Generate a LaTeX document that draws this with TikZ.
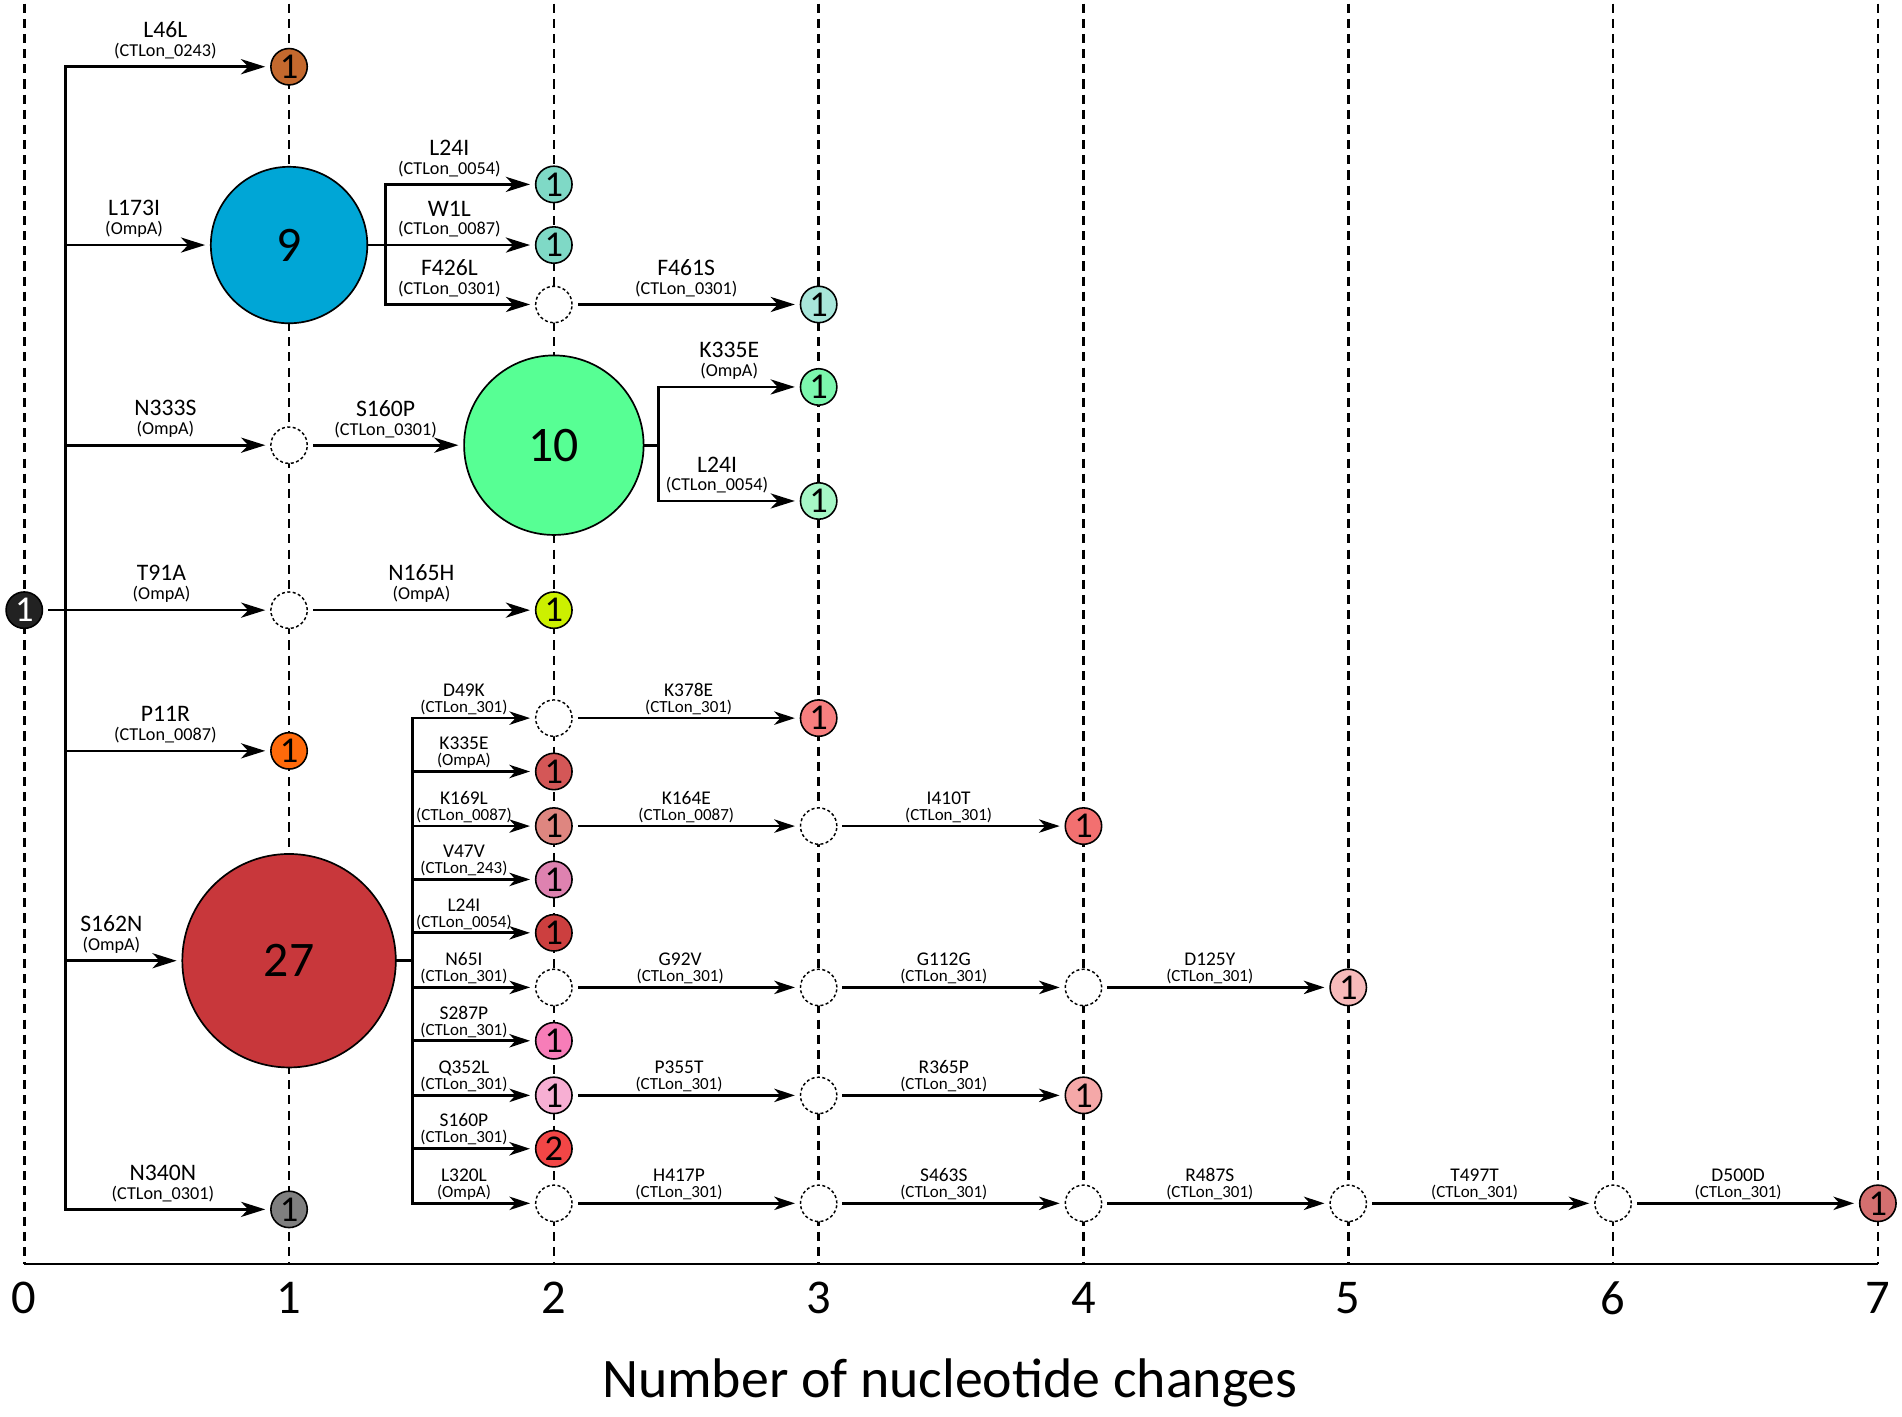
\documentclass[tikz,border=0pt]{standalone}
\usepackage{fontspec}
\setmainfont{Carlito}
\usetikzlibrary{arrows.meta}
\definecolor{cBrown}{HTML}{C4692E}
\definecolor{cBlue}{HTML}{00A6D6}
\definecolor{cTeal}{HTML}{7FD9C6}
\definecolor{cTealL}{HTML}{A8E6DA}
\definecolor{cGreen}{HTML}{57FF94}
\definecolor{cGreenB}{HTML}{7CF7AE}
\definecolor{cGreenC}{HTML}{A6F7C6}
\definecolor{cLime}{HTML}{CCF000}
\definecolor{cOrange}{HTML}{FF6A0A}
\definecolor{cRed}{HTML}{C8373B}
\definecolor{cGray}{HTML}{7F7F7F}
\definecolor{cRa}{HTML}{D45757}
\definecolor{cRb}{HTML}{DE8680}
\definecolor{cPa}{HTML}{DE82B0}
\definecolor{cRc}{HTML}{CC3F3F}
\definecolor{cPb}{HTML}{F77DB8}
\definecolor{cPc}{HTML}{F7AFD3}
\definecolor{cRd}{HTML}{F24646}
\definecolor{cRe}{HTML}{F77F7F}
\definecolor{cRf}{HTML}{F27070}
\definecolor{cRg}{HTML}{F7BABA}
\definecolor{cRh}{HTML}{F5A8A8}
\definecolor{cRi}{HTML}{D46F6F}
\definecolor{cRoot}{HTML}{222222}
\newcommand{\tU}[2]{#1\\[-4pt]{\fontsize{15}{15}\selectfont #2}}
\newcommand{\tL}[2]{#1\\[-2.8pt]{\fontsize{14}{14}\selectfont #2}}
\begin{document}
\begin{tikzpicture}[x=1pt,y=-1pt,
  vline/.style={line width=2.2pt, dash pattern=on 7.5pt off 5pt},
  conn/.style={line width=2.2pt, line cap=rect},
  arr/.style={conn, -{Stealth[length=20pt,width=12.5pt,inset=6pt]}, shorten >=4pt},
  arrL/.style={conn, -{Stealth[length=17pt,width=11pt,inset=5pt]}, shorten >=4pt},
  fromnode/.style={shorten <=5pt},
  nd/.style={circle, draw, line width=1.3pt, minimum size=30pt, inner sep=0pt, font=\fontsize{30}{30}\selectfont},
  emp/.style={circle, draw, line width=1.2pt, dash pattern=on 2.5pt off 2pt, fill=white, minimum size=30pt, inner sep=0pt},
  big/.style={circle, draw, line width=1.4pt, inner sep=0pt, font=\fontsize{41}{41}\selectfont},
  labU/.style={above, align=center, inner sep=2pt, yshift=3.2pt, font=\fontsize{19.5}{19.5}\selectfont},
  labL/.style={above, align=center, inner sep=1pt, yshift=0.7pt, font=\fontsize{16}{16}\selectfont},
  tick/.style={font=\fontsize{40}{40}\selectfont, inner sep=0pt}]
\useasboundingbox (0,0) rectangle (1568,1168);
% grid
\foreach \i in {0,...,7} \draw[vline] (20+218.3*\i,3) -- (20+218.3*\i,1042);
\draw[line width=2.2pt] (20,1042) -- (1548.1,1042);
\foreach \i in {0,...,7} \node[tick] (t\i) at (20+218.3*\i,1070) {\i};
\node[font=\fontsize{46}{46}\selectfont, inner sep=0pt] (title) at (783,1140) {Number of nucleotide changes};
% nodes column 0/1
\node[nd, fill=cRoot, text=white] (root) at (20,503) {1};
\node[nd, fill=cBrown] (n1a) at (238.3,55) {1};
\node[big, fill=cBlue, minimum size=129pt] (n9) at (238.3,202) {9};
\node[emp] (e1a) at (238.3,367) {};
\node[emp] (e1b) at (238.3,503) {};
\node[nd, fill=cOrange] (n1p) at (238.3,619) {1};
\node[big, fill=cRed, minimum size=176pt] (n27) at (238.3,792) {27};
\node[nd, fill=cGray] (n1g) at (238.3,997) {1};
% column 2 upper
\node[nd, fill=cTeal] (n2a) at (456.6,152) {1};
\node[nd, fill=cTeal] (n2b) at (456.6,202) {1};
\node[emp] (e2c) at (456.6,251) {};
\node[big, fill=cGreen, minimum size=148pt] (n10) at (456.6,367) {10};
\node[nd, fill=cLime] (n2y) at (456.6,503) {1};
% column 3 upper
\node[nd, fill=cTealL] (n3a) at (674.9,251) {1};
\node[nd, fill=cGreenB] (n3b) at (674.9,319) {1};
\node[nd, fill=cGreenC] (n3c) at (674.9,413) {1};
% column 2 lower
\node[emp] (e2d) at (456.6,592) {};
\node[nd, fill=cRa] (n2e) at (456.6,636) {1};
\node[nd, fill=cRb] (n2f) at (456.6,681) {1};
\node[nd, fill=cPa] (n2g) at (456.6,725) {1};
\node[nd, fill=cRc] (n2h) at (456.6,769) {1};
\node[emp] (e2i) at (456.6,814) {};
\node[nd, fill=cPb] (n2j) at (456.6,858) {1};
\node[nd, fill=cPc] (n2k) at (456.6,903) {1};
\node[nd, fill=cRd] (n2l) at (456.6,947) {2};
\node[emp] (e2m) at (456.6,992) {};
% further columns
\node[nd, fill=cRe] (n3d) at (674.9,592) {1};
\node[emp] (e3f) at (674.9,681) {};
\node[emp] (e3i) at (674.9,814) {};
\node[emp] (e3k) at (674.9,903) {};
\node[emp] (e3m) at (674.9,992) {};
\node[nd, fill=cRf] (n4f) at (893.2,681) {1};
\node[emp] (e4i) at (893.2,814) {};
\node[nd, fill=cRh] (n4k) at (893.2,903) {1};
\node[emp] (e4m) at (893.2,992) {};
\node[nd, fill=cRg] (n5i) at (1111.5,814) {1};
\node[emp] (e5m) at (1111.5,992) {};
\node[emp] (e6m) at (1329.8,992) {};
\node[nd, fill=cRi] (n7m) at (1548.1,992) {1};
% trunk
\coordinate (tr) at (54,503);
\draw[conn] (tr |- n1a) -- (tr |- n1g);
\draw[arr] (tr |- n1a) -- (n1a) node[labU, midway, xshift=-2pt] {\tU{L46L}{(CTLon\_0243)}};
\draw[arr] (tr |- n9) -- (n9) node[labU, midway, xshift=-3pt] {\tU{L173I}{(OmpA)}};
\draw[arr] (tr |- e1a) -- (e1a) node[labU, midway, xshift=-2pt] {\tU{N333S}{(OmpA)}};
\draw[arr, fromnode] (root) -- (e1b) node[labU, midway, xshift=4pt] {\tU{T91A}{(OmpA)}};
\draw[arr] (tr |- n1p) -- (n1p) node[labU, midway, xshift=-2pt] {\tU{P11R}{(CTLon\_0087)}};
\draw[arr] (tr |- n27) -- (n27) node[labU, midway, xshift=-10pt] {\tU{S162N}{(OmpA)}};
\draw[arr] (tr |- n1g) -- (n1g) node[labU, midway, xshift=-4pt] {\tU{N340N}{(CTLon\_0301)}};
% from 9
\coordinate (b9) at (318,202);
\draw[conn] (n9.east) -- (b9);
\draw[conn] (b9 |- n2a) -- (b9 |- e2c);
\draw[arr] (b9 |- n2a) -- (n2a) node[labU, midway, xshift=-9pt] {\tU{L24I}{(CTLon\_0054)}};
\draw[arr] (b9) -- (n2b) node[labU, midway, xshift=-9pt] {\tU{W1L}{(CTLon\_0087)}};
\draw[arr] (b9 |- e2c) -- (e2c) node[labU, midway, xshift=-9pt] {\tU{F426L}{(CTLon\_0301)}};
\draw[arr, fromnode] (e2c) -- (n3a) node[labU, midway] {\tU{F461S}{(CTLon\_0301)}};
% to and from 10
\draw[arr, fromnode] (e1a) -- (n10) node[labU, midway] {\tU{S160P}{(CTLon\_0301)}};
\coordinate (b10) at (543,367);
\draw[conn] (n10.east) -- (b10);
\draw[conn] (b10 |- n3b) -- (b10 |- n3c);
\draw[arr] (b10 |- n3b) -- (n3b) node[labU, midway] {\tU{K335E}{(OmpA)}};
\draw[arr] (b10 |- n3c) -- (n3c) node[labU, midway, xshift=-10pt] {\tU{L24I}{(CTLon\_0054)}};
\draw[arr, fromnode] (e1b) -- (n2y) node[labU, midway] {\tU{N165H}{(OmpA)}};
% from 27
\coordinate (b27) at (340,792);
\draw[conn] (n27.east) -- (b27);
\draw[conn] (b27 |- e2d) -- (b27 |- e2m);
\draw[arrL] (b27 |- e2d) -- (e2d) node[labL, midway, xshift=-8pt] {\tL{D49K}{(CTLon\_301)}};
\draw[arrL] (b27 |- n2e) -- (n2e) node[labL, midway, xshift=-8pt] {\tL{K335E}{(OmpA)}};
\draw[arrL] (b27 |- n2f) -- (n2f) node[labL, midway, xshift=-8pt] {\tL{K169L}{(CTLon\_0087)}};
\draw[arrL] (b27 |- n2g) -- (n2g) node[labL, midway, xshift=-8pt] {\tL{V47V}{(CTLon\_243)}};
\draw[arrL] (b27 |- n2h) -- (n2h) node[labL, midway, xshift=-8pt] {\tL{L24I}{(CTLon\_0054)}};
\draw[arrL] (b27 |- e2i) -- (e2i) node[labL, midway, xshift=-8pt] {\tL{N65I}{(CTLon\_301)}};
\draw[arrL] (b27 |- n2j) -- (n2j) node[labL, midway, xshift=-8pt] {\tL{S287P}{(CTLon\_301)}};
\draw[arrL] (b27 |- n2k) -- (n2k) node[labL, midway, xshift=-8pt] {\tL{Q352L}{(CTLon\_301)}};
\draw[arrL] (b27 |- n2l) -- (n2l) node[labL, midway, xshift=-8pt] {\tL{S160P}{(CTLon\_301)}};
\draw[arrL] (b27 |- e2m) -- (e2m) node[labL, midway, xshift=-8pt] {\tL{L320L}{(OmpA)}};
% chains
\draw[arrL, fromnode] (e2d) -- (n3d) node[labL, midway, xshift=2pt] {\tL{K378E}{(CTLon\_301)}};
\draw[arrL, fromnode] (n2f) -- (e3f) node[labL, midway] {\tL{K164E}{(CTLon\_0087)}};
\draw[arrL, fromnode] (e3f) -- (n4f) node[labL, midway, xshift=-2pt] {\tL{I410T}{(CTLon\_301)}};
\draw[arrL, fromnode] (e2i) -- (e3i) node[labL, midway, xshift=-5pt] {\tL{G92V}{(CTLon\_301)}};
\draw[arrL, fromnode] (e3i) -- (e4i) node[labL, midway, xshift=-6pt] {\tL{G112G}{(CTLon\_301)}};
\draw[arrL, fromnode] (e4i) -- (n5i) node[labL, midway, xshift=-5pt] {\tL{D125Y}{(CTLon\_301)}};
\draw[arrL, fromnode] (n2k) -- (e3k) node[labL, midway, xshift=-6pt] {\tL{P355T}{(CTLon\_301)}};
\draw[arrL, fromnode] (e3k) -- (n4k) node[labL, midway, xshift=-6pt] {\tL{R365P}{(CTLon\_301)}};
\draw[arrL, fromnode] (e2m) -- (e3m) node[labL, midway, xshift=-6pt] {\tL{H417P}{(CTLon\_301)}};
\draw[arrL, fromnode] (e3m) -- (e4m) node[labL, midway, xshift=-6pt] {\tL{S463S}{(CTLon\_301)}};
\draw[arrL, fromnode] (e4m) -- (e5m) node[labL, midway, xshift=-5pt] {\tL{R487S}{(CTLon\_301)}};
\draw[arrL, fromnode] (e5m) -- (e6m) node[labL, midway, xshift=-5pt] {\tL{T497T}{(CTLon\_301)}};
\draw[arrL, fromnode] (e6m) -- (n7m) node[labL, midway, xshift=-6pt] {\tL{D500D}{(CTLon\_301)}};
\end{tikzpicture}
\end{document}
